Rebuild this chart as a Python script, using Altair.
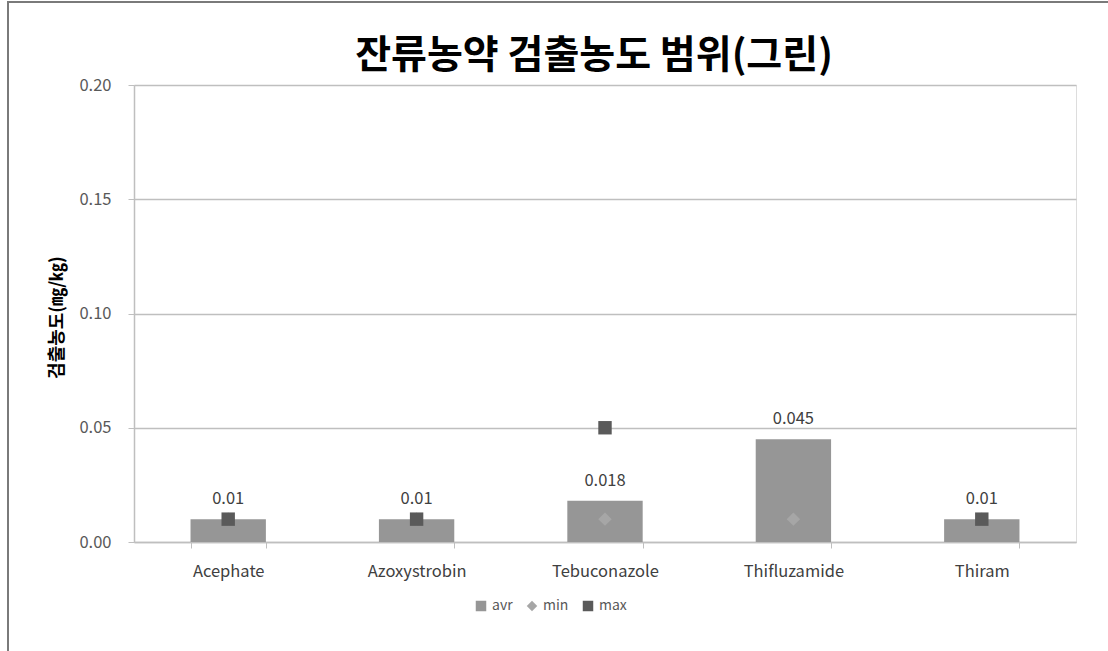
import altair as alt
import pandas as pd

categories = ["Acephate", "Azoxystrobin", "Tebuconazole", "Thifluzamide", "Thiram"]
avr_values = [0.01, 0.01, 0.018, 0.045, 0.01]
min_values = [0.01, 0.01, 0.01, 0.01, 0.01]
max_values = [0.01, 0.01, 0.05, None, 0.01]
series_names = ["avr", "min", "max"]
series_colors = ["#969696", "#a6a6a6", "#5a5a5a"]
series_shapes = ["square", "diamond", "square"]
y_ticks = [0.0, 0.05, 0.10, 0.15, 0.20]

FONT = "Noto Sans CJK KR"

rows = []
for name, vals in (("avr", avr_values), ("min", min_values), ("max", max_values)):
    for c, v in zip(categories, vals):
        if v is None:
            continue
        rows.append({"category": c, "series": name, "value": v, "label": str(v)})
df = pd.DataFrame(rows)

x_enc = alt.X(
    "category:N",
    sort=categories,
    scale=alt.Scale(paddingInner=0.6, paddingOuter=0.3),
    axis=alt.Axis(
        title=None,
        labelAngle=0,
        tickBand="extent",
        labelFontSize=16.5,
        labelColor="#404040",
        labelFont=FONT,
        labelPadding=15,
        tickSize=6,
        tickColor="#bfbfbf",
        domainColor="#bfbfbf",
        domainWidth=1.5,
        grid=False,
    ),
)
y_enc = alt.Y(
    "value:Q",
    scale=alt.Scale(domain=[0, 0.2]),
    axis=alt.Axis(
        values=y_ticks,
        format=".2f",
        title="검출농도(㎎/㎏)",
        titleFont=FONT,
        titleFontSize=18,
        titleFontWeight="bold",
        titleColor="#000000",
        titleX=-77,
        titleY=232,
        titleAngle=-90,
        titleAlign="center",
        titleBaseline="middle",
        labelFontSize=16.5,
        labelColor="#595959",
        labelFont=FONT,
        labelPadding=17,
        tickSize=6,
        tickColor="#bfbfbf",
        domainColor="#bfbfbf",
        domainWidth=1.5,
        gridColor="#bfbfbf",
        gridWidth=1.5,
    ),
)
legend_cfg = dict(
    title=None,
    orient="none",
    direction="horizontal",
    legendX=340,
    legendY=514,
    labelFontSize=14,
    labelFont=FONT,
    labelColor="#595959",
    symbolSize=110,
    symbolStrokeWidth=0,
    columnPadding=12,
    labelOffset=4,
)
color_enc = alt.Color(
    "series:N",
    scale=alt.Scale(domain=series_names, range=series_colors),
    legend=alt.Legend(**legend_cfg),
)
shape_enc = alt.Shape(
    "series:N",
    scale=alt.Scale(domain=series_names, range=series_shapes),
    legend=alt.Legend(**legend_cfg),
)

base = alt.Chart(df)

bars = base.transform_filter(alt.datum.series == "avr").mark_bar().encode(
    x=x_enc, y=y_enc, color=color_enc
)
points = base.transform_filter(alt.datum.series != "avr").mark_point(
    filled=True, size=180, opacity=1
).encode(x=x_enc, y=y_enc, color=color_enc, shape=shape_enc)
labels = base.transform_filter(alt.datum.series == "avr").mark_text(
    dy=-20, fontSize=16.5, color="#404040", font=FONT
).encode(x=x_enc, y=y_enc, text="label:N")

frame_df = pd.DataFrame({"k": [0]})
frame_left = alt.Chart(frame_df).mark_rule(color="#7a7a7a", strokeWidth=2).encode(
    x=alt.value(-126), y=alt.value(-84), y2=alt.value(566)
)
frame_top = alt.Chart(frame_df).mark_rule(color="#7a7a7a", strokeWidth=2).encode(
    x=alt.value(-127), x2=alt.value(974), y=alt.value(-83)
)

chart = (
    alt.layer(bars, points, labels, frame_left, frame_top)
    .properties(
        width=942,
        height=457,
        title=alt.TitleParams(
            "잔류농약 검출농도 범위(그린)",
            font=FONT,
            fontSize=39,
            fontWeight="bold",
            color="#000000",
            anchor="middle",
            frame="group",
            orient="none",
            baseline="bottom",
            dy=-9,
            dx=460,
        ),
        autosize=alt.AutoSizeParams(type="none"),
        padding={"left": 134, "top": 85, "right": 32, "bottom": 109},
    )
    .configure_view(stroke="#bfbfbf", strokeWidth=1.5)
    .configure(background="white")
)

chart.save("out.html", embed_options={"renderer": "svg", "actions": False})
